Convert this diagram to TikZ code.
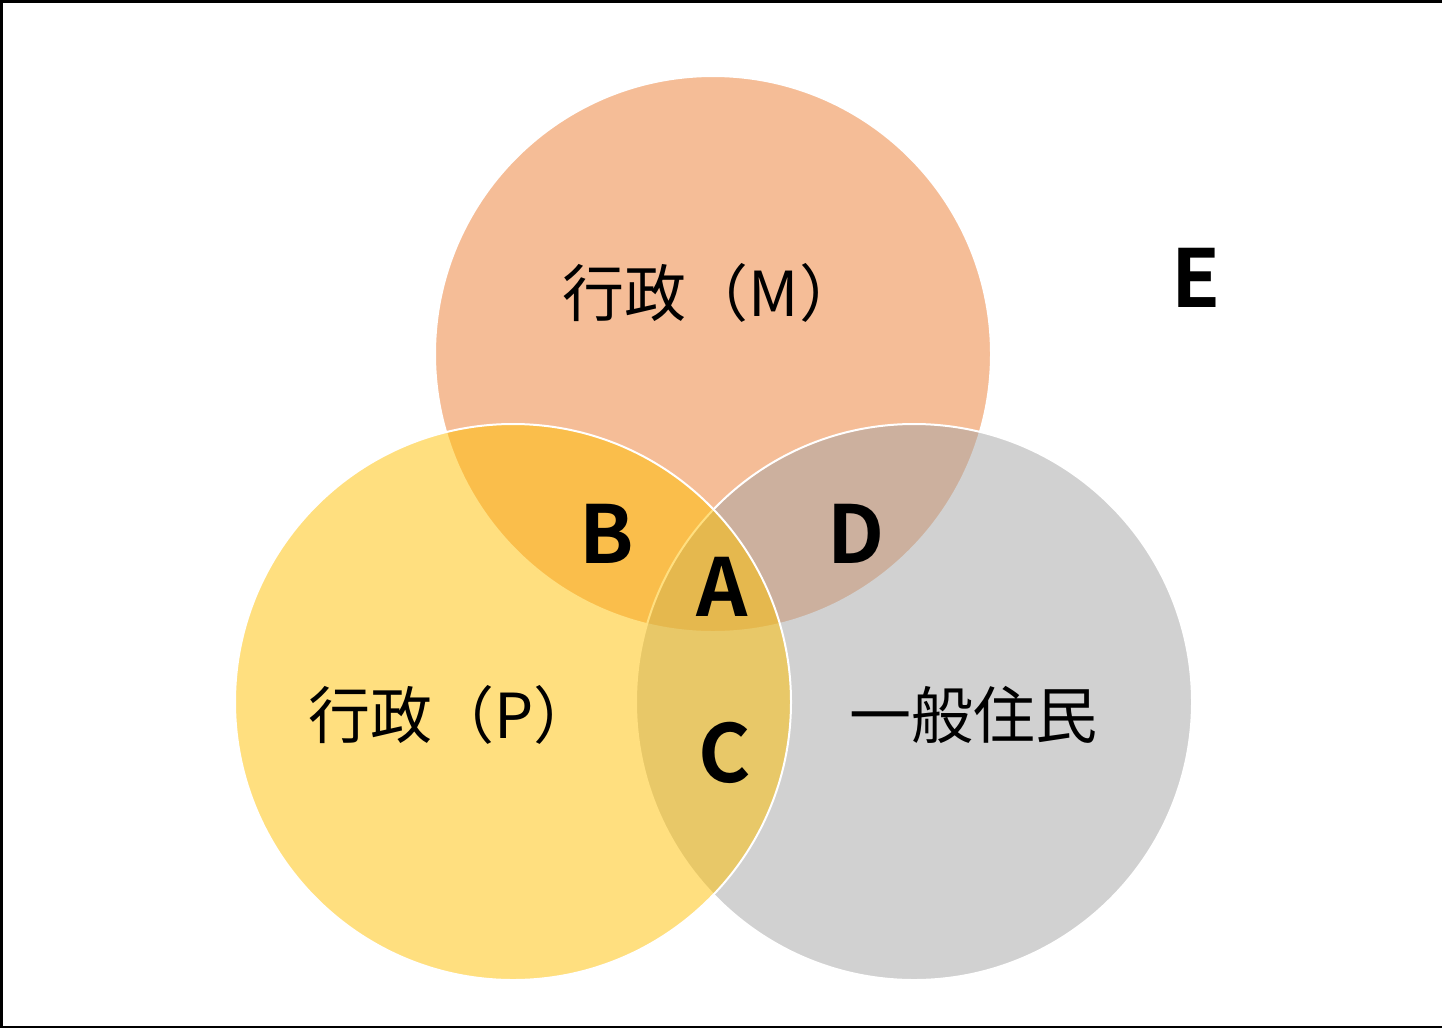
\documentclass[tikz,border=0pt]{standalone}
\usepackage{fontspec}
\newfontfamily\jp{Noto Sans CJK JP}
\newfontfamily\jpb{Noto Sans CJK JP Bold}
\definecolor{cM}{HTML}{ED7D31}
\definecolor{cG}{HTML}{A5A5A5}
\definecolor{cP}{HTML}{FFC000}
\tikzset{
  venn/.style={circle, minimum size=556pt, inner sep=0pt, draw=white, line width=2pt, fill opacity=0.5, draw opacity=1},
  lbl/.style={font=\jp\fontsize{62}{70}\selectfont, text=black, inner sep=0pt},
  let/.style={font=\jpb\fontsize{80}{90}\selectfont, text=black, inner sep=0pt}
}
\begin{document}
\begin{tikzpicture}[x=1pt,y=-1pt]
\useasboundingbox (0,0) rectangle (1442,1029);
\fill[white] (0,0) rectangle (1442,1029);
\draw[line width=2.5pt] (1450,1.5) -- (1.5,1.5) -- (1.5,1027) -- (1450,1027);
\node[venn, fill=cM] (M) at (713,354) {};
\node[venn, fill=cG] (G) at (914,702) {};
\node[venn, fill=cP] (P) at (513,702) {};
\node[lbl] (tM) at (712,293) {行政（M）};
\node[lbl] (tP) at (452,715) {行政（P）};
\node[lbl] (tG) at (973,715) {一般住民};
\node[let] (B) at (607,534) {B};
\node[let] (D) at (856,534) {D};
\node[let] (A) at (722,587) {A};
\node[let] (C) at (725,753) {C};
\node[let] (E) at (1196,278) {E};
\end{tikzpicture}
\end{document}
